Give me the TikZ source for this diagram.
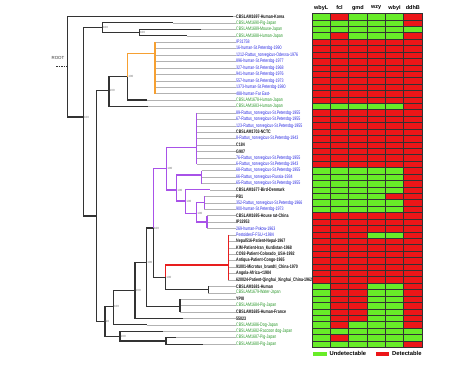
\documentclass[tikz,border=0pt]{standalone}
\usepackage{fontspec}
\setmainfont{Liberation Sans}
\usepackage{graphicx}
\usepackage{tikz}

\definecolor{hmgreen}{RGB}{104,236,40}
\definecolor{hmred}{RGB}{236,22,24}
\colorlet{hm0}{hmgreen}
\colorlet{hm1}{hmred}
\definecolor{labG}{RGB}{40,150,40}
\definecolor{labB}{RGB}{40,40,225}
\definecolor{labK}{RGB}{20,20,20}
\definecolor{clorange}{RGB}{246,160,50}
\definecolor{clpurple}{RGB}{168,82,232}
\definecolor{clred}{RGB}{232,30,30}

\newcommand{\leaftxt}[1]{\scalebox{0.72}[1]{#1}}

\begin{document}
\begin{tikzpicture}[x=1pt,y=-1pt,
    branch/.style={draw=black!80, line width=1.1pt},
    leader/.style={draw=black!30, line width=0.35pt},
    leafK/.style={anchor=west, inner sep=0pt, text=labK, font=\fontsize{5}{5}\selectfont\bfseries},
    leafG/.style={anchor=west, inner sep=0pt, text=labG, font=\fontsize{5}{5}\selectfont},
    leafB/.style={anchor=west, inner sep=0pt, text=labB, font=\fontsize{5}{5}\selectfont},
    boot/.style={anchor=west, inner sep=0.5pt, text=black!55, font=\fontsize{3}{3}\selectfont},
    cell/.style={draw=black!80, line width=0.35pt},
    colhead/.style={inner sep=0pt, font=\fontsize{5.5}{5.5}\selectfont\bfseries},
    legtext/.style={anchor=west, inner sep=0pt, font=\fontsize{5.8}{5.8}\selectfont\bfseries}]

  \useasboundingbox (0,0) rectangle (474,365);

  % Leaves: tip position, colour, label
  \foreach \tx/\col/\txt [count=\k] in {
      233/K/CBSLAM1697-Human-Korea,
      173.3/G/CBSLAM1690-Pig-Japan,
      201/G/CBSLAM1689-Mouse-Japan,
      187.3/G/CBSLAM1688-Human-Japan,
      155/B/IP31758,
      155/B/16-human-St.Petersbg-1990,
      155/B/1212-Rattus\_norvegicus-Odessa-1976,
      155/B/896-human-St.Petersbg-1977,
      155/B/327-human-St.Petersbg-1968,
      155/B/941-human-St.Petersbg-1976,
      155/B/557-human-St.Petersbg-1973,
      155/B/1373-human-St.Petersbg-1980,
      155/B/488-human-Far East-,
      146.7/G/CBSLAM1678-Human-Japan,
      147.7/G/CBSLAM1683-Human-Japan,
      196.7/B/89-Rattus\_norvegicus-St.Petersbg-1955,
      196.7/B/67-Rattus\_norvegicus-St.Petersbg-1955,
      196.7/B/123-Rattus\_norvegicus-St.Petersbg-1955,
      196.7/K/CBSLAM1703-NCTC,
      196.7/B/8-Rattus\_norvegicus-St.Petersbg-1943,
      196.7/K/C184,
      196.7/K/G907,
      196.7/B/76-Rattus\_norvegicus-St.Petersbg-1955,
      196.7/B/6-Rattus\_norvegicus-St.Petersbg-1943,
      201.7/B/68-Rattus\_norvegicus-St.Petersbg-1955,
      201.7/B/66-Rattus\_norvegicus-Russia-1934,
      201.7/B/65-Rattus\_norvegicus-St.Petersbg-1955,
      210/K/CBSLAM1677-Bird-Denmark,
      204.3/K/PB1,
      204.3/B/352-Rattus\_norvegicus-St.Petersbg-1966,
      204.3/B/900-human-St.Petersbg-1973,
      207/K/CBSLAM1695-House rat-China,
      207/K/IP32953,
      207/B/269-human-Pskow-1963,
      228.3/B/PestoidesF-FSU-<1984,
      228.3/K/Nepal516-Patient-Nepal-1967,
      228.3/K/KIM-Patient-Iran\_Kurdistan-1968,
      228.3/K/CO92-Patient-Colorado\_USA-1992,
      228.3/K/Antiqua-Patient-Congo-1965,
      228.3/K/91001-Microtus\_brandti\_China-1970,
      228.3/K/Angola-Africa-<1984,
      228.3/K/620024-Patient-Qinghai\_Xinghai\_China-1962,
      208.3/K/CBSLAM1681-Human,
      208.3/G/CBSLAM1679-Water-Japan,
      180/K/YPIII,
      180/G/CBSLAM1684-Pig-Japan,
      180/K/CBSLAM1685-Human-France,
      182.7/K/55023,
      146.7/G/CBSLAM1686-Dog-Japan,
      163.3/G/CBSLAM1682-Raccoon dog-Japan,
      175.7/G/CBSLAM1687-Pig-Japan,
      203.3/G/CBSLAM1680-Pig-Japan} {
    \coordinate (t\k) at (\tx,{10.09+6.423*\k});
    \node[leaf\col] (l\k) at (236,{10.09+6.423*\k}) {\leaftxt{\txt}};
    \draw[leader] (t\k) -- (l\k.west);
  }

  % Internal nodes of the tree
  \coordinate (rootstub) at (56,66.7);
  \coordinate (root) at (67.7,66.7);
  \coordinate (nA) at (83.3,117);
  \coordinate (nB) at (102.3,27.7);
  \coordinate (nB2) at (139.3,32.5);
  \coordinate (nC) at (96.7,216);
  \coordinate (nD) at (109,90.7);
  \coordinate (nF) at (127.7,76.7);
  \coordinate (nO) at (155,53.3);
  \coordinate (nE) at (105,321.7);
  \coordinate (nG) at (113.3,306.7);
  \coordinate (nI) at (135,290.7);
  \coordinate (nJ) at (146.7,262.7);
  \coordinate (nK) at (180,306.1);
  \coordinate (nP) at (153.3,228);
  \coordinate (nQ) at (166.7,168.3);
  \coordinate (nQ1) at (196.7,147.7);
  \coordinate (nQ2) at (176.7,190);
  \coordinate (nQ3) at (201.7,175);
  \coordinate (nQ4) at (185.7,201);
  \coordinate (nQ5) at (196.7,213.3);
  \coordinate (nQ6) at (204.3,202.6);
  \coordinate (nQ7) at (207,222);
  \coordinate (nS) at (165.7,277.3);
  \coordinate (nT) at (228.3,265);
  \coordinate (nU) at (208.3,289.3);
  \coordinate (nH) at (120,336.7);
  \coordinate (nH2) at (166,341);

  % Draw the black branches
  \foreach \p/\c in {root/t1, root/nA, nA/nB, nA/nC, nB/t2, nB/nB2, nB2/t3, nB2/t4,
      nC/nD, nC/nE, nD/nF, nD/t15, nF/t14, nE/nG, nE/nH, nG/nI, nG/t49,
      nI/nJ, nI/t48, nJ/nP, nJ/nK, nP/nS, nS/nU, nU/t43, nU/t44,
      nH/t50, nH/nH2, nH2/t51, nH2/t52} {
    \draw[branch] (\p) |- (\c);
  }
  \draw[branch] (t45) -- (t47);
  \draw[branch, dashed, dash pattern=on 1.5pt off 1pt] (rootstub) -- (root);

  % Orange clade
  \draw[branch, clorange] (nF) |- (nO);
  \draw[branch, clorange] (t5) -- (t13);

  % Purple clade
  \draw[branch, clpurple, line width=1.6pt] (nP) |- (nQ);
  \foreach \p/\c in {nQ/nQ1, nQ/nQ2, nQ2/nQ3, nQ2/nQ4, nQ4/t28, nQ4/nQ5, nQ5/nQ6, nQ5/nQ7} {
    \draw[branch, clpurple] (\p) |- (\c);
  }
  \draw[branch, clpurple] (t16) -- (t24);
  \draw[branch, clpurple] (t25) -- (t27);
  \draw[branch, clpurple] (t29) -- (t31);
  \draw[branch, clpurple] (t32) -- (t34);

  % Red clade
  \draw[branch, clred] (nS) |- (nT);
  \draw[branch, clred] (t35) -- (t42);

  % Root label and bootstrap values
  \node[inner sep=0pt, font=\fontsize{4.4}{4.4}\selectfont, text=black!80] (rootlab) at (58,58.3) {ROOT};
  \foreach \n in {nA,nB,nB2,nD,nF,nJ,nI,nG,nP,nQ,nQ2,nQ4,nQ5,nS,nH} {
    \node[boot] (b\n) at (\n) {100};
  }
  \node[boot] (bnE) at (nE) {98};

  % Draw the heat map
  \foreach \a/\b/\c/\d/\e/\f [count=\k] in {
      0/1/0/0/0/1, 0/0/0/0/0/1, 0/0/0/0/0/0, 0/1/0/0/0/1,
      1/1/1/1/1/1, 1/1/1/1/1/1, 1/1/1/1/1/1, 1/1/1/1/1/1, 1/1/1/1/1/1,
      1/1/1/1/1/1, 1/1/1/1/1/1, 1/1/1/1/1/1, 1/1/1/1/1/1, 1/1/1/1/1/1,
      0/0/0/0/0/1,
      1/1/1/1/1/1, 1/1/1/1/1/1, 1/1/1/1/1/1, 1/1/1/1/1/1, 1/1/1/1/1/1,
      1/1/1/1/1/1, 1/1/1/1/1/1, 1/1/1/1/1/1, 1/1/1/1/1/1,
      0/0/0/0/0/1, 0/0/0/0/0/1, 0/0/0/0/0/1, 0/0/0/0/0/1,
      0/0/0/0/1/1, 0/0/0/0/0/1, 0/0/0/0/0/1,
      1/1/1/1/1/1, 1/1/1/1/1/1, 1/1/1/1/1/1,
      1/1/1/0/0/1,
      1/1/1/1/1/1, 1/1/1/1/1/1, 1/1/1/1/1/1, 1/1/1/1/1/1, 1/1/1/1/1/1,
      1/1/1/1/1/1, 1/1/1/1/1/1,
      0/1/1/0/0/1, 0/1/1/0/0/1, 0/1/1/0/0/1, 0/1/1/0/0/1, 0/1/1/0/0/1,
      0/1/1/0/0/1,
      0/1/0/0/0/1, 0/0/0/0/0/0, 0/1/0/0/0/0, 0/0/0/0/0/1} {
    \foreach \v [count=\j] in {\a,\b,\c,\d,\e,\f} {
      \draw[cell, fill=hm\v] ({312+(\j-1)*18.33},{13.3+(\k-1)*6.423}) rectangle ++(18.33,6.423);
    }
  }

  % Column heads
  \foreach \h [count=\j] in {wbyL,fcl,gmd,wzy,wbyI,ddhB} {
    \node[colhead] (h\j) at ({312+(\j-0.5)*18.33},7.6) {\h};
  }

  % Draw the Legend
  \fill[hm0] (313.3,351.7) rectangle (327.3,355.7);
  \node[legtext] (undet) at (329.5,353.7) {Undetectable};
  \fill[hm1] (376,351.7) rectangle (389.3,355.7);
  \node[legtext] (det) at (392,353.7) {Detectable};
\end{tikzpicture}
\end{document}
